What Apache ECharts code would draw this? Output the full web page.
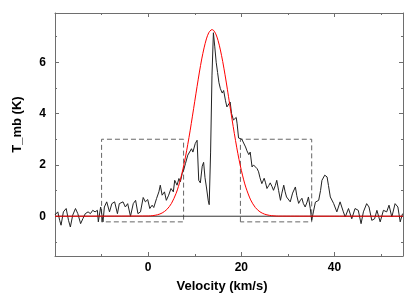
<!DOCTYPE html>
<html>
<head>
<meta charset="utf-8">
<script src="https://cdn.jsdelivr.net/npm/echarts@6/dist/echarts.min.js"></script>
<style>
html,body{margin:0;padding:0;background:#fff;}
#chart{width:409px;height:298px;}
</style>
</head>
<body>
<div id="chart"></div>
<script>
// Observed spectrum (velocity km/s, T_mb K)
const velocity = [-20.0,-19.7,-19.4,-19.0,-18.7,-18.2,-17.6,-17.1,-16.7,-16.2,-15.6,-15.1,-14.5,-14.0,-13.5,-12.9,-12.4,-11.9,-11.4,-10.9,-10.7,-10.2,-9.7,-9.4,-8.9,-8.3,-7.8,-7.2,-6.6,-6.2,-5.4,-4.9,-4.4,-3.8,-3.2,-2.7,-2.2,-1.65,-1.07,-0.6,-0.1,0.35,0.85,1.2,1.8,2.3,2.6,3.0,3.5,3.9,4.4,4.9,5.4,5.7,6.2,6.6,6.9,7.3,7.6,8.0,8.5,8.9,9.3,9.6,10.1,10.5,10.85,11.2,11.6,11.9,12.2,12.5,12.9,13.1,13.4,13.7,14.0,14.3,14.6,14.9,15.2,15.5,15.9,16.2,16.6,16.9,17.3,17.6,17.9,18.3,18.6,18.9,19.1,19.4,19.8,20.1,20.5,20.9,21.2,21.6,21.9,22.3,22.6,23.0,23.4,23.7,24.0,24.4,24.9,25.2,25.5,25.9,26.2,26.6,26.9,27.3,27.6,28.0,28.4,28.7,29.1,29.4,29.7,30.1,30.5,31.0,31.6,31.9,32.3,32.6,33.0,33.3,33.7,34.1,34.4,34.8,35.1,35.5,35.9,36.6,37.0,37.3,37.9,38.4,38.7,39.1,39.8,40.5,41.2,41.9,42.3,43.0,43.7,44.4,45.1,45.7,46.2,46.9,47.4,48.0,48.6,49.1,49.8,50.5,51.2,51.7,52.3,53.0,53.6,54.1,54.6];
const tmb = [0.05,0.1,0.17,-0.16,-0.35,0.17,0.3,-0.16,-0.42,0.04,0.3,0.1,-0.29,-0.09,0.1,0.17,0.1,0.23,0.17,0.23,-0.22,0.36,-0.22,0.36,0.56,0.17,0.49,0.56,0.1,0.49,0.56,0.36,0.49,0.0,0.49,0.62,0.1,0.17,0.73,0.56,0.65,0.3,0.43,0.34,0.69,0.95,1.21,0.82,0.95,0.62,0.82,1.08,0.95,1.4,1.21,1.47,1.34,1.66,1.79,2.05,2.38,2.44,2.63,2.5,2.83,2.96,1.4,1.3,1.95,2.1,1.5,1.14,0.6,0.45,2.5,5.5,7.15,6.6,6.0,5.6,5.2,4.97,4.8,4.9,4.5,4.26,4.2,4.45,4.0,3.75,3.7,3.85,3.6,3.05,3.04,3.0,3.02,2.7,2.55,2.4,2.5,1.92,2.0,2.06,1.85,1.73,1.5,1.27,1.48,1.3,1.08,1.2,1.3,1.15,1.01,1.2,1.4,1.0,0.62,0.9,1.21,0.95,0.75,0.8,0.56,0.9,1.14,0.8,0.5,0.6,0.7,0.5,0.36,0.55,0.75,0.3,-0.16,0.2,0.55,0.62,1.0,1.4,1.6,1.53,1.2,0.75,0.5,0.17,0.56,0.17,-0.03,0.3,-0.1,0.3,0.23,-0.29,0.17,0.49,0.36,-0.16,-0.1,0.23,-0.22,0.23,0.17,0.43,-0.03,0.49,0.36,-0.22,0.1];

// Gaussian fit curve
const fitVelocity = [-20,0,1,2,3,4,5,6,6.5,7,7.5,8,8.5,9,9.5,10,10.5,11,11.5,12,12.5,13,13.5,13.7,14,14.5,15,15.5,16,16.5,17,17.5,18,18.5,19,19.5,20,20.5,21,22,23,24,25,26,27,28,54.7];
const fitTmb = [0,0.01,0.024,0.057,0.127,0.261,0.5,0.893,1.163,1.487,1.87,2.305,2.8,3.328,3.9,4.48,5.06,5.62,6.13,6.56,6.91,7.15,7.26,7.27,7.25,7.11,6.85,6.48,6.03,5.51,4.95,4.36,3.78,3.22,2.69,2.21,1.79,1.417,1.105,0.636,0.341,0.171,0.08,0.035,0.014,0.005,0];

// Baseline windows (velocity ranges) and box heights
const leftWindow = [-10, 7.6];
const rightWindow = [19.8, 35.1];
const windowTop = 3.0;
const windowBottom = -0.22;

// Axis ranges and tick values
const xRange = [-20, 54.7];
const yRange = [-1.55, 7.92];
const xMajorTicks = [0, 20, 40];
const xMinorTicks = [-10, 10, 30, 50];
const yMajorTicks = [0, 2, 4, 6];
const yMinorTicks = [-1, 1, 3, 5, 7];

const FONT = 'Liberation Sans';
const frameColor = '#6e6e6e';

function rect(w){
  return [[w[0],windowBottom],[w[0],windowTop],[w[1],windowTop],[w[1],windowBottom],[w[0],windowBottom]];
}

function xAxisDef(pos, ticks, len, showLine, showLabel, name){
  return {
    type:'value', position:pos, min:xRange[0], max:xRange[1],
    name: name || '', nameLocation:'middle', nameGap:24,
    nameTextStyle:{fontFamily:FONT,fontWeight:'bold',fontSize:13,color:'#000',padding:[0,14,0,0]},
    axisLine:{show:showLine,onZero:false,lineStyle:{color:frameColor,width:1}},
    axisTick:{show:true,inside:true,length:len,customValues:ticks,lineStyle:{color:frameColor,width:1}},
    axisLabel:{show:showLabel,customValues:ticks,margin:6,fontFamily:FONT,fontWeight:'bold',fontSize:12,color:'#000'},
    splitLine:{show:false}
  };
}
function yAxisDef(pos, ticks, len, showLine, showLabel, name){
  return {
    type:'value', position:pos, min:yRange[0], max:yRange[1],
    name: name || '', nameLocation:'middle', nameGap:31,
    nameTextStyle:{fontFamily:FONT,fontWeight:'bold',fontSize:13,color:'#000',padding:[0,0,0,20]},
    axisLine:{show:showLine,onZero:false,lineStyle:{color:frameColor,width:1}},
    axisTick:{show:true,inside:true,length:len,customValues:ticks,lineStyle:{color:frameColor,width:1}},
    axisLabel:{show:showLabel,customValues:ticks,margin:9,fontFamily:FONT,fontWeight:'bold',fontSize:12,color:'#000'},
    splitLine:{show:false}
  };
}

const chart = echarts.init(document.getElementById('chart'), null, {renderer:'canvas'});
const spectrum = velocity.map((v,i)=>[v,tmb[i]]);
const fit = fitVelocity.map((v,i)=>[v,fitTmb[i]]);

chart.setOption({
  animation:false,
  backgroundColor:'#fff',
  grid:{left:55,right:6,top:13,bottom:42,containLabel:false},
  xAxis:[
    xAxisDef('bottom', xMajorTicks, 4, true, true, 'Velocity (km/s)'),
    xAxisDef('bottom', xMinorTicks, 2, false, false),
    xAxisDef('top', xMajorTicks, 4, true, false),
    xAxisDef('top', xMinorTicks, 2, false, false)
  ],
  yAxis:[
    yAxisDef('left', yMajorTicks, 4, true, true, 'T_mb (K)'),
    yAxisDef('left', yMinorTicks, 2, false, false),
    yAxisDef('right', yMajorTicks, 4, true, false),
    yAxisDef('right', yMinorTicks, 2, false, false)
  ],
  series:[
    {type:'line',data:rect(leftWindow),symbol:'none',silent:true,
     lineStyle:{color:'#666',width:1,type:[5,3]},z:2},
    {type:'line',data:rect(rightWindow),symbol:'none',silent:true,
     lineStyle:{color:'#666',width:1,type:[5,3]},z:2},
    {type:'line',data:[[xRange[0],0],[xRange[1],0]],symbol:'none',silent:true,
     lineStyle:{color:'#333',width:1},z:3},
    {type:'line',data:spectrum,symbol:'none',silent:true,
     lineStyle:{color:'#222',width:1},z:4},
    {type:'line',data:fit,symbol:'none',smooth:0.3,silent:true,
     lineStyle:{color:'#ff0000',width:1},z:5}
  ]
});
</script>
</body>
</html>
